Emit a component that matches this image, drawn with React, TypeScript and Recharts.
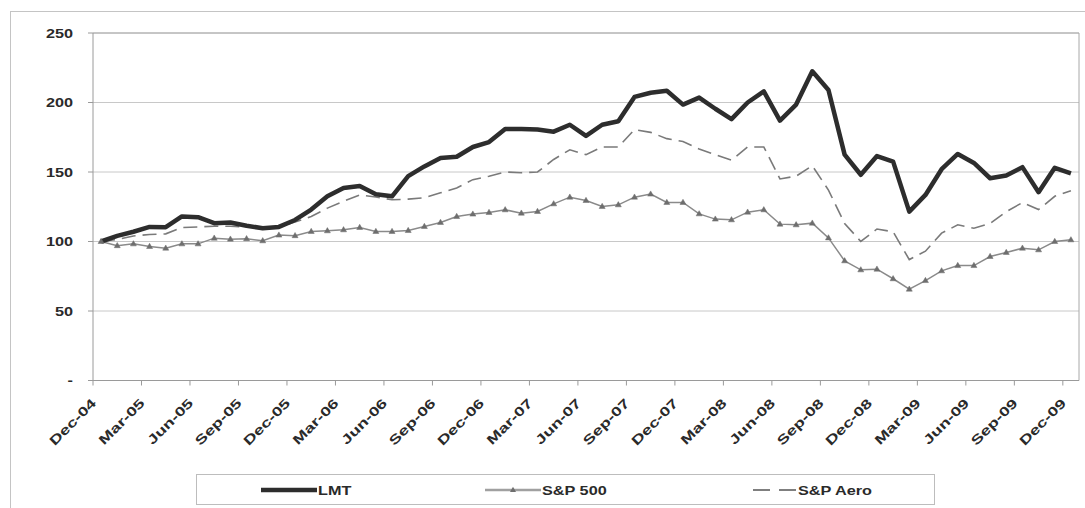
import React from 'react';
import { LineChart, Line, XAxis, YAxis, CartesianGrid, ReferenceLine } from 'recharts';

const months = [
  'Dec-04',
  'Jan-05', 'Feb-05', 'Mar-05', 'Apr-05', 'May-05', 'Jun-05', 'Jul-05', 'Aug-05', 'Sep-05', 'Oct-05', 'Nov-05', 'Dec-05',
  'Jan-06', 'Feb-06', 'Mar-06', 'Apr-06', 'May-06', 'Jun-06', 'Jul-06', 'Aug-06', 'Sep-06', 'Oct-06', 'Nov-06', 'Dec-06',
  'Jan-07', 'Feb-07', 'Mar-07', 'Apr-07', 'May-07', 'Jun-07', 'Jul-07', 'Aug-07', 'Sep-07', 'Oct-07', 'Nov-07', 'Dec-07',
  'Jan-08', 'Feb-08', 'Mar-08', 'Apr-08', 'May-08', 'Jun-08', 'Jul-08', 'Aug-08', 'Sep-08', 'Oct-08', 'Nov-08', 'Dec-08',
  'Jan-09', 'Feb-09', 'Mar-09', 'Apr-09', 'May-09', 'Jun-09', 'Jul-09', 'Aug-09', 'Sep-09', 'Oct-09', 'Nov-09', 'Dec-09',
];

const lmt = [
  100, 104, 107, 110.5, 110.3, 118, 117.5, 113.2, 113.7, 111.3, 109.6, 110.5, 115.5,
  123, 132.5, 138.5, 140, 134, 132.5, 147, 154, 160, 161, 168, 171.5,
  181, 181, 180.5, 179, 184, 176, 184, 186.5, 204, 207, 208.5, 198.5,
  203.5, 195.5, 188, 200, 208, 187, 198.5, 222.5, 209, 162.5, 148, 161.5,
  157.5, 121.5, 133.5, 152, 163, 156.5, 145.5, 147.5, 153.5, 135.5, 153, 149,
];

const sp500 = [
  100, 97, 98.3, 96.4, 95.2, 98.3, 98.3, 102.4, 101.7, 102, 100.5, 104.6, 104.2,
  107.2, 107.7, 108.4, 110.1, 107.2, 107.2, 107.9, 110.8, 113.7, 118, 119.7, 120.9,
  122.8, 120.4, 121.6, 127.1, 131.9, 129.5, 125.2, 126.4, 131.9, 134.1, 128.1, 128.1,
  119.9, 116.1, 115.6, 121.1, 122.8, 112.5, 112, 113.2, 102.6, 86.1, 79.6, 80.1,
  73.2, 65.7, 71.9, 78.9, 82.7, 82.7, 89.2, 92.1, 95.2, 94, 100, 101.2,
];

const spAero = [
  100, 101.5, 104, 105, 105.5, 110, 110.5, 111, 111, 110.5, 110, 110.5, 114,
  118, 124, 129, 133.5, 132, 130, 130.5, 131.5, 135, 138.5, 144.5, 147,
  150, 149.5, 150, 159, 166, 162.5, 168, 168, 180.5, 178.5, 174, 172,
  166.5, 162.5, 158.5, 168, 168, 145, 147, 154.5, 137, 113, 100, 109,
  107, 87, 93, 106, 112, 109.5, 113, 121.5, 128, 123, 132.5, 136.5,
];

const yTicks = [0, 50, 100, 150, 200, 250];
const xTicks = [-0.5, 2.5, 5.5, 8.5, 11.5, 14.5, 17.5, 20.5, 23.5, 26.5, 29.5, 32.5, 35.5, 38.5, 41.5, 44.5, 47.5, 50.5, 53.5, 56.5, 59.5];

const seriesNames = ['LMT', 'S&P 500', 'S&P Aero'];

const data = months.map((m, i) => ({ idx: i, month: m, lmt: lmt[i], sp500: sp500[i], aero: spAero[i] }));

const FONT = '"Liberation Sans", Arial, sans-serif';
const SX = 1.3;
const FS = 12.5;
const TXT = '#2a2a2a';

const YTick = (props: any) => {
  const { x, y, payload } = props;
  return (
    <g transform={`translate(${x},${y})`}>
      <text transform={`scale(${SX},1)`} textAnchor="end" dy="0.36em" fontSize={FS} fontWeight="bold" fill={TXT} fontFamily={FONT}>
        {payload.value === 0 ? '-' : payload.value}
      </text>
    </g>
  );
};

const XTick = (props: any) => {
  const { x, y, payload } = props;
  const label = months[Math.round(payload.value + 0.5)];
  return (
    <g transform={`translate(${x + 4},${y + 16.5})`}>
      <text transform="rotate(-45) scale(1.4,1)" textAnchor="end" fontSize={13} fontWeight="bold" fill={TXT} fontFamily={FONT}>
        {label}
      </text>
    </g>
  );
};

const triPoints = (cx: number, cy: number) => `${cx},${cy - 3.2} ${cx + 3},${cy + 2} ${cx - 3},${cy + 2}`;

const TriDot = (p: any) => {
  if (p.cx == null || p.cy == null) return <g key={`t${p.index}`} />;
  return <polygon key={`t${p.index}`} points={triPoints(p.cx, p.cy)} fill="#6e6e6e" stroke="#6e6e6e" strokeWidth={0.5} />;
};

const Legend = () => (
  <div style={{ position: 'absolute', left: 196, top: 474, width: 739, height: 31, border: '1px solid #bdbdbd', boxSizing: 'border-box', background: '#fff' }}>
    <svg width={737} height={29} style={{ display: 'block' }}>
      <line x1={64} x2={120} y1={15} y2={15} stroke="#2d2d2d" strokeWidth={4.5} />
      <g transform="translate(121,19.5)">
        <text transform={`scale(${SX},1)`} fontSize={FS} fontWeight="bold" fill={TXT} fontFamily={FONT}>{seriesNames[0]}</text>
      </g>
      <line x1={288} x2={344} y1={15} y2={15} stroke="#a0a0a0" strokeWidth={2.5} />
      <polygon points={triPoints(316, 15)} fill="#6e6e6e" />
      <g transform="translate(345,19.5)">
        <text transform={`scale(${SX},1)`} fontSize={FS} fontWeight="bold" fill={TXT} fontFamily={FONT}>{seriesNames[1]}</text>
      </g>
      <line x1={556} x2={600} y1={15} y2={15} stroke="#555" strokeWidth={1.5} strokeDasharray="17 9" />
      <g transform="translate(601,19.5)">
        <text transform={`scale(${SX},1)`} fontSize={FS} fontWeight="bold" fill={TXT} fontFamily={FONT}>{seriesNames[2]}</text>
      </g>
    </svg>
  </div>
);

export default function App() {
  return (
    <div style={{ position: 'absolute', left: 0, top: 0, width: 1085, height: 508, background: '#fff', overflow: 'hidden' }}>
      <div style={{ position: 'absolute', left: 10, top: 11, width: 1100, height: 520, borderTop: '1px solid #c4c4c4', borderLeft: '1px solid #c4c4c4' }} />
      <div style={{ position: 'absolute', left: 0, top: 0 }}>
        <LineChart width={1085} height={508} data={data} margin={{ top: 33, right: 6, bottom: 87.5, left: 33 }}>
          <CartesianGrid vertical={false} stroke="#c8c8c8" strokeWidth={1} />
          <XAxis
            dataKey="idx"
            type="number"
            domain={[-0.5, 60.5]}
            ticks={xTicks}
            interval={0}
            tick={<XTick />}
            tickSize={5}
            tickMargin={2}
            height={40}
            axisLine={{ stroke: '#9a9a9a' }}
            tickLine={{ stroke: '#9a9a9a' }}
            allowDataOverflow
          />
          <YAxis
            type="number"
            domain={[0, 250]}
            ticks={yTicks}
            interval={0}
            tick={<YTick />}
            tickSize={5}
            tickMargin={15}
            width={60}
            axisLine={{ stroke: '#9a9a9a' }}
            tickLine={{ stroke: '#9a9a9a' }}
          />
          <ReferenceLine y={250} stroke="#a8a8a8" />
          <ReferenceLine x={60.5} stroke="#a8a8a8" />
          <Line type="linear" dataKey="aero" name={seriesNames[2]} stroke="#7a7a7a" strokeWidth={1.6} strokeDasharray="14 7" dot={false} isAnimationActive={false} />
          <Line type="linear" dataKey="sp500" name={seriesNames[1]} stroke="#8a8a8a" strokeWidth={1.5} dot={TriDot} activeDot={false} isAnimationActive={false} />
          <Line type="linear" dataKey="lmt" name={seriesNames[0]} stroke="#2d2d2d" strokeWidth={4.5} strokeLinejoin="round" dot={false} isAnimationActive={false} />
        </LineChart>
      </div>
      <Legend />
    </div>
  );
}
